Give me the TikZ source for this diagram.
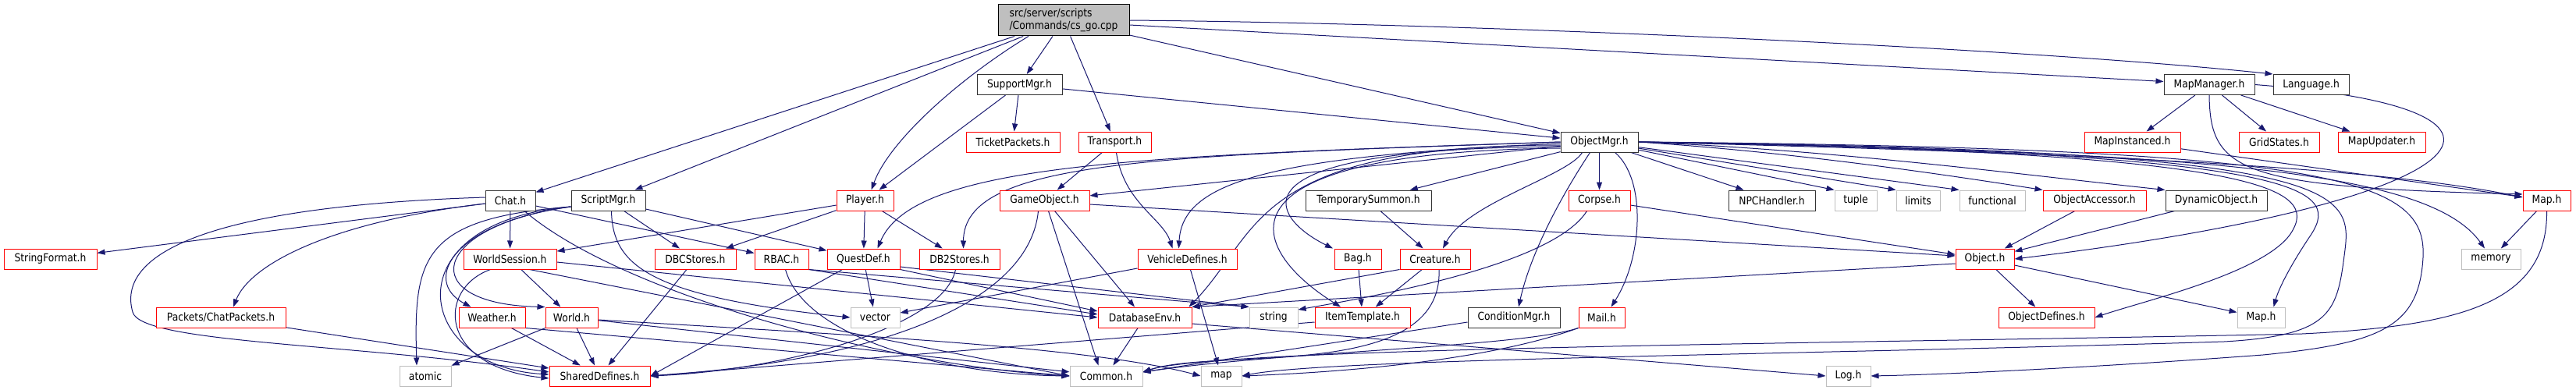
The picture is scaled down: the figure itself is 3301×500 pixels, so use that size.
\documentclass[tikz,border=0pt]{standalone}
\usepackage{fontspec}
\newfontfamily\dv{DejaVu Sans}[FakeStretch=0.88]
\usetikzlibrary{arrows.meta}
\definecolor{edgeblue}{HTML}{191970}
\definecolor{lgray}{HTML}{BFBFBF}
\pgfdeclarelayer{bg}
\pgfsetlayers{bg,main}
\begin{document}
\begin{tikzpicture}[x=1pt,y=-1pt,
  nbase/.style={rectangle, draw, line width=1pt, fill=white, inner sep=0pt, minimum height=26pt, font=\dv\fontsize{14}{16}\selectfont, text=black},
  nblk/.style={nbase, draw=black!80},
  nred/.style={nbase, draw=red},
  ngry/.style={nbase, draw=lgray},
  dep/.style={draw=edgeblue, line width=1pt, -{Triangle[length=10pt,width=7pt]}},
]
\useasboundingbox (0,0) rectangle (3301,500);
% row 1
\node[nbase, draw=black, fill=lgray, minimum width=168pt, minimum height=40pt, align=left] (src) at (1363,26) {src/server/scripts\\/Commands/cs\_go.cpp};
% row 2
\node[nblk, minimum width=109pt] (supportmgr) at (1306.5,108.5) {SupportMgr.h};
\node[nblk, minimum width=116pt] (mapmgr) at (2831,108.5) {MapManager.h};
\node[nblk, minimum width=97pt] (language) at (2961.5,108.5) {Language.h};
% row 3
\node[nred, minimum width=120pt] (ticket) at (1298,182) {TicketPackets.h};
\node[nred, minimum width=93pt] (transport) at (1428.5,182) {Transport.h};
\node[nblk, minimum width=99pt] (objmgr) at (2049.5,182) {ObjectMgr.h};
\node[nred, minimum width=123pt] (mapinst) at (2732.5,182) {MapInstanced.h};
\node[nred, minimum width=103pt] (gridstates) at (2920.5,182) {GridStates.h};
\node[nred, minimum width=112pt] (mapupdater) at (3052,182) {MapUpdater.h};
% row 4
\node[nblk, minimum width=64pt] (chat) at (654,257) {Chat.h};
\node[nblk, minimum width=95pt] (scriptmgr) at (779.5,257) {ScriptMgr.h};
\node[nred, minimum width=73pt] (player) at (1108.5,257) {Player.h};
\node[nred, minimum width=115pt] (gameobj) at (1338.5,257) {GameObject.h};
\node[nblk, minimum width=161pt] (tempsum) at (1753.5,257) {TemporarySummon.h};
\node[nred, minimum width=79pt] (corpse) at (2049.5,257) {Corpse.h};
\node[nblk, minimum width=111pt] (npc) at (2270.5,257) {NPCHandler.h};
\node[ngry, minimum width=54pt] (tuple) at (2378,257) {tuple};
\node[ngry, minimum width=56pt] (limits) at (2458,257) {limits};
\node[ngry, minimum width=84pt] (functional) at (2553,257) {functional};
\node[nred, minimum width=132pt] (objacc) at (2684,257) {ObjectAccessor.h};
\node[nblk, minimum width=130pt] (dynobj) at (2840,257) {DynamicObject.h};
\node[nred, minimum width=61pt] (mapred) at (3263.5,257) {Map.h};
% row 5
\node[nred, minimum width=119pt] (stringformat) at (64.5,332) {StringFormat.h};
\node[nred, minimum width=119pt] (ws) at (653.5,332) {WorldSession.h};
\node[nred, minimum width=104pt] (dbc) at (891,332) {DBCStores.h};
\node[nred, minimum width=69pt] (rbac) at (1001.5,332) {RBAC.h};
\node[nred, minimum width=93pt] (questdef) at (1106.5,332) {QuestDef.h};
\node[nred, minimum width=103pt] (db2) at (1229.5,332) {DB2Stores.h};
\node[nred, minimum width=127pt] (vehicle) at (1521.5,332) {VehicleDefines.h};
\node[nred, minimum width=60pt] (bag) at (1740,332) {Bag.h};
\node[nred, minimum width=90pt] (creature) at (1839,332) {Creature.h};
\node[nred, minimum width=75pt] (object) at (2543.5,332) {Object.h};
\node[ngry, minimum width=76pt] (memory) at (3192,332) {memory};
% row 6
\node[nred, minimum width=166pt] (chatpackets) at (283,407) {Packets/ChatPackets.h};
\node[nred, minimum width=85pt] (weather) at (630.5,407) {Weather.h};
\node[nred, minimum width=67pt] (world) at (732.5,407) {World.h};
\node[ngry, minimum width=63pt] (vector) at (1121.5,407) {vector};
\node[nred, minimum width=120pt] (dbenv) at (1467,407) {DatabaseEnv.h};
\node[ngry, minimum width=62pt] (string) at (1632,407) {string};
\node[nred, minimum width=122pt] (itemtpl) at (1746,407) {ItemTemplate.h};
\node[nblk, minimum width=118pt] (condmgr) at (1940,407) {ConditionMgr.h};
\node[nred, minimum width=59pt] (mail) at (2052.5,407) {Mail.h};
\node[nred, minimum width=123pt] (objdef) at (2622.5,407) {ObjectDefines.h};
\node[ngry, minimum width=61pt] (mapgray) at (2897.5,407) {Map.h};
% row 7
\node[ngry, minimum width=66pt] (atomic) at (545,482) {atomic};
\node[nred, minimum width=129pt] (shareddef) at (768.5,482) {SharedDefines.h};
\node[ngry, minimum width=93pt] (common) at (1417.5,482) {Common.h};
\node[ngry, minimum width=52pt] (map) at (1565,482) {map};
\node[ngry, minimum width=57pt] (log) at (2368.5,482) {Log.h};

\begin{pgfonlayer}{bg}
\fill[white] (0,0) rectangle (3301,500);
% source
\draw[dep] (src) -- (chat);
\draw[dep] (src) -- (scriptmgr);
\draw[dep] ([xshift=-45pt]src.south) .. controls (1230,100) and (1140,180) .. ([xshift=8pt]player.north);
\draw[dep] (src) -- (supportmgr);
\draw[dep] (src) -- (transport);
\draw[dep] (src) -- (objmgr);
\draw[dep] ([yshift=-6pt]src.east) -- ([yshift=4pt]mapmgr.west);
\draw[dep] (src.east) .. controls (1900,30) and (2600,62) .. (language.north west);
% SupportMgr
\draw[dep] (supportmgr) -- (ticket);
\draw[dep] (supportmgr) -- (player);
\draw[dep] (supportmgr) -- (objmgr);
% Transport
\draw[dep] (transport) -- (gameobj);
\draw[dep] ([xshift=2pt]transport.south) .. controls (1440,260) and (1490,280) .. ([xshift=-19pt]vehicle.north);
% MapManager
\draw[dep] (mapmgr) -- (mapinst);
\draw[dep] (mapmgr) -- (gridstates);
\draw[dep] (mapmgr) -- (mapupdater);
\draw[dep] (mapmgr.south) .. controls (2832,220) and (2870,240) .. ([yshift=8pt]mapred.west);
\draw[dep] (mapmgr.east) .. controls (3300,140) and (3180,260) .. (object.east);
\draw[dep] (mapinst) -- (mapred);
% Map.h (red)
\draw[dep] (mapred) -- (memory);
\draw[dep] (mapred.south) .. controls (3265,390) and (3150,418) .. (2950,428) .. controls (2400,440) and (1560,445) .. ([yshift=5pt]common.east);
% ObjectMgr
\draw[dep] (objmgr) -- (gameobj);
\draw[dep] ([yshift=-2pt]objmgr.west) .. controls (1620,200) and (1515,235) .. ([xshift=-11pt]vehicle.north);
\draw[dep] (objmgr.west) .. controls (1480,200) and (1235,205) .. ([xshift=5pt]db2.north);
\draw[dep] (objmgr.west) .. controls (1450,200) and (1170,210) .. ([xshift=18pt]questdef.north);
\draw[dep] ([yshift=-4pt]objmgr.west) .. controls (1600,186) and (1615,300) .. ([xshift=-4pt]dbenv.north east);
\draw[dep] ([yshift=-6pt]objmgr.west) .. controls (1560,190) and (1630,280) .. ([xshift=-32pt]bag.north);
\draw[dep] ([yshift=-8pt]objmgr.west) .. controls (1540,195) and (1600,320) .. ([xshift=-28pt]itemtpl.north);
\draw[dep] (objmgr) -- (tempsum);
\draw[dep] ([xshift=-22pt]objmgr.south) .. controls (2010,225) and (1880,260) .. ([xshift=10pt]creature.north);
\draw[dep] (objmgr) -- (corpse);
\draw[dep] ([xshift=-12pt]objmgr.south) .. controls (1995,260) and (1960,330) .. ([xshift=6pt]condmgr.north);
\draw[dep] ([xshift=20pt]objmgr.south) .. controls (2110,230) and (2105,330) .. ([xshift=12pt]mail.north);
\draw[dep] (objmgr) -- ([xshift=-36pt]npc.north);
\draw[dep] (objmgr) -- (tuple.north west);
\draw[dep] (objmgr) -- (limits.north west);
\draw[dep] (objmgr) -- (functional.north west);
\draw[dep] (objmgr.east) .. controls (2300,195) and (2500,225) .. (objacc.north west);
\draw[dep] (objmgr.east) .. controls (2350,192) and (2600,225) .. (dynobj.north west);
\draw[dep] (objmgr.east) .. controls (2700,197) and (3050,215) .. ([yshift=4pt]mapred.west);
\draw[dep] (objmgr.east) .. controls (2800,195) and (3110,215) .. ([xshift=-8pt]memory.north);
\draw[dep] (objmgr.east) .. controls (2900,195) and (2975,240) .. (2935,300) .. controls (2900,350) and (2750,385) .. (objdef.east);
\draw[dep] (objmgr.east) .. controls (2950,195) and (3000,240) .. (2962,300) .. controls (2935,340) and (2920,370) .. ([xshift=16pt]mapgray.north);
\draw[dep] (objmgr.east) .. controls (2990,192) and (3015,240) .. (3005,320) .. controls (2995,400) and (2990,430) .. (2850,438) .. controls (2300,455) and (1700,460) .. (map.east);
\draw[dep] (objmgr.east) .. controls (3000,190) and (3110,230) .. (3105,330) .. controls (3100,420) and (3050,440) .. (2900,455) .. controls (2700,470) and (2500,480) .. (log.east);
% Chat
\draw[dep] (chat) -- (stringformat);
\draw[dep] ([yshift=-4pt]chat.west) .. controls (420,285) and (320,340) .. ([xshift=16pt]chatpackets.north);
\draw[dep] ([yshift=4pt]chat.west) .. controls (250,265) and (150,330) .. (170,400) .. controls (180,440) and (450,440) .. ([yshift=5pt]shareddef.west);
\draw[dep] (chat) -- (ws);
\draw[dep] (chat) -- (rbac);
\draw[dep] ([xshift=18pt]chat.south) .. controls (800,380) and (1150,470) .. (common.west);
% ScriptMgr
\draw[dep] (scriptmgr) -- (dbc);
\draw[dep] (scriptmgr) -- (questdef);
\draw[dep] ([xshift=4pt]scriptmgr.south) .. controls (785,340) and (830,380) .. (vector.west);
\draw[dep] ([yshift=-8pt]scriptmgr.west) .. controls (580,285) and (540,360) .. ([xshift=-27pt]weather.north);
\draw[dep] ([yshift=-8pt]scriptmgr.west) .. controls (550,290) and (530,390) .. (world.north west);
\draw[dep] ([yshift=-8pt]scriptmgr.west) .. controls (540,280) and (530,330) .. ([xshift=-11pt]atomic.north);
\draw[dep] ([yshift=-8pt]scriptmgr.west) .. controls (500,285) and (530,470) .. ([yshift=2pt]shareddef.west);
% Player
\draw[dep] (player) -- (ws);
\draw[dep] (player) -- (dbc);
\draw[dep] (player) -- (questdef);
\draw[dep] (player) -- (db2);
% GameObject
\draw[dep] ([yshift=-5pt]gameobj.east) -- ([yshift=4pt]object.west);
\draw[dep] ([xshift=-8pt]gameobj.south) .. controls (1320,380) and (1150,460) .. (shareddef.east);
\draw[dep] ([xshift=5pt]gameobj.south) -- ([xshift=-10pt]common.north);
\draw[dep] ([xshift=13pt]gameobj.south) -- ([xshift=-13pt]dbenv.north);
% WorldSession
\draw[dep] (ws) -- (world);
\draw[dep] ([xshift=-25pt]ws.south) .. controls (560,370) and (560,470) .. ([yshift=-3pt]shareddef.west);
\draw[dep] ([yshift=-4pt]ws.east) -- (dbenv.west);
\draw[dep] ([xshift=25pt]ws.south) -- (common.west);
% World, Weather, ChatPackets
\draw[dep] (world) -- (atomic);
\draw[dep] (world) -- (shareddef);
\draw[dep] (world) -- (common);
\draw[dep] ([yshift=-3pt]world.east) .. controls (1100,430) and (1400,445) .. (map.west);
\draw[dep] (weather) -- (shareddef);
\draw[dep] (weather.south east) -- (common.west);
\draw[dep] (chatpackets) -- (shareddef);
% DBC, DB2, RBAC, QuestDef
\draw[dep] (dbc) -- (shareddef);
\draw[dep] ([xshift=-5pt]db2.south) .. controls (1210,420) and (1000,475) .. (shareddef.east);
\draw[dep] (rbac.south east) -- ([yshift=4pt]dbenv.west);
\draw[dep] (rbac.south east) -- (string.north west);
\draw[dep] ([xshift=5pt]rbac.south) .. controls (1030,430) and (1200,480) .. (common.west);
\draw[dep] (questdef) -- (vector);
\draw[dep] ([xshift=-27pt]questdef.south) -- (shareddef.east);
\draw[dep] (questdef.south east) -- ([yshift=8pt]dbenv.west);
\draw[dep] ([yshift=-10pt]questdef.east) -- (string.north west);
% VehicleDefines, DatabaseEnv
\draw[dep] (vehicle) -- (vector);
\draw[dep] (vehicle) -- (map);
\draw[dep] (dbenv) -- (common);
\draw[dep] ([yshift=-8pt]dbenv.east) -- (log.west);
% Bag, TemporarySummon, Creature
\draw[dep] (bag) -- (itemtpl);
\draw[dep] (tempsum) -- (creature);
\draw[dep] (creature) -- (itemtpl);
\draw[dep] (creature.south west) -- (dbenv.north east);
\draw[dep] ([xshift=5pt]creature.south) .. controls (1850,490) and (1560,445) .. ([yshift=5pt]common.east);
% Corpse
\draw[dep] (corpse) -- (object);
\draw[dep] ([xshift=-16pt]corpse.south) .. controls (1990,340) and (1760,380) .. ([yshift=10pt]string.east);
% ItemTemplate, ConditionMgr, Mail
\draw[dep] ([yshift=-6pt]itemtpl.west) -- (shareddef.east);
\draw[dep] ([yshift=-6pt]condmgr.west) -- ([yshift=5pt]common.east);
\draw[dep] (mail.south west) .. controls (1950,445) and (1650,450) .. ([yshift=5pt]common.east);
\draw[dep] (mail.south west) .. controls (1900,465) and (1700,478) .. (map.east);
% Object, ObjectAccessor, DynamicObject
\draw[dep] (object) -- (objdef);
\draw[dep] (object) -- (mapgray);
\draw[dep] ([yshift=-6pt]object.west) -- (dbenv.north east);
\draw[dep] (objacc) -- (object);
\draw[dep] (dynobj) -- (object);
\end{pgfonlayer}
\end{tikzpicture}
\end{document}
